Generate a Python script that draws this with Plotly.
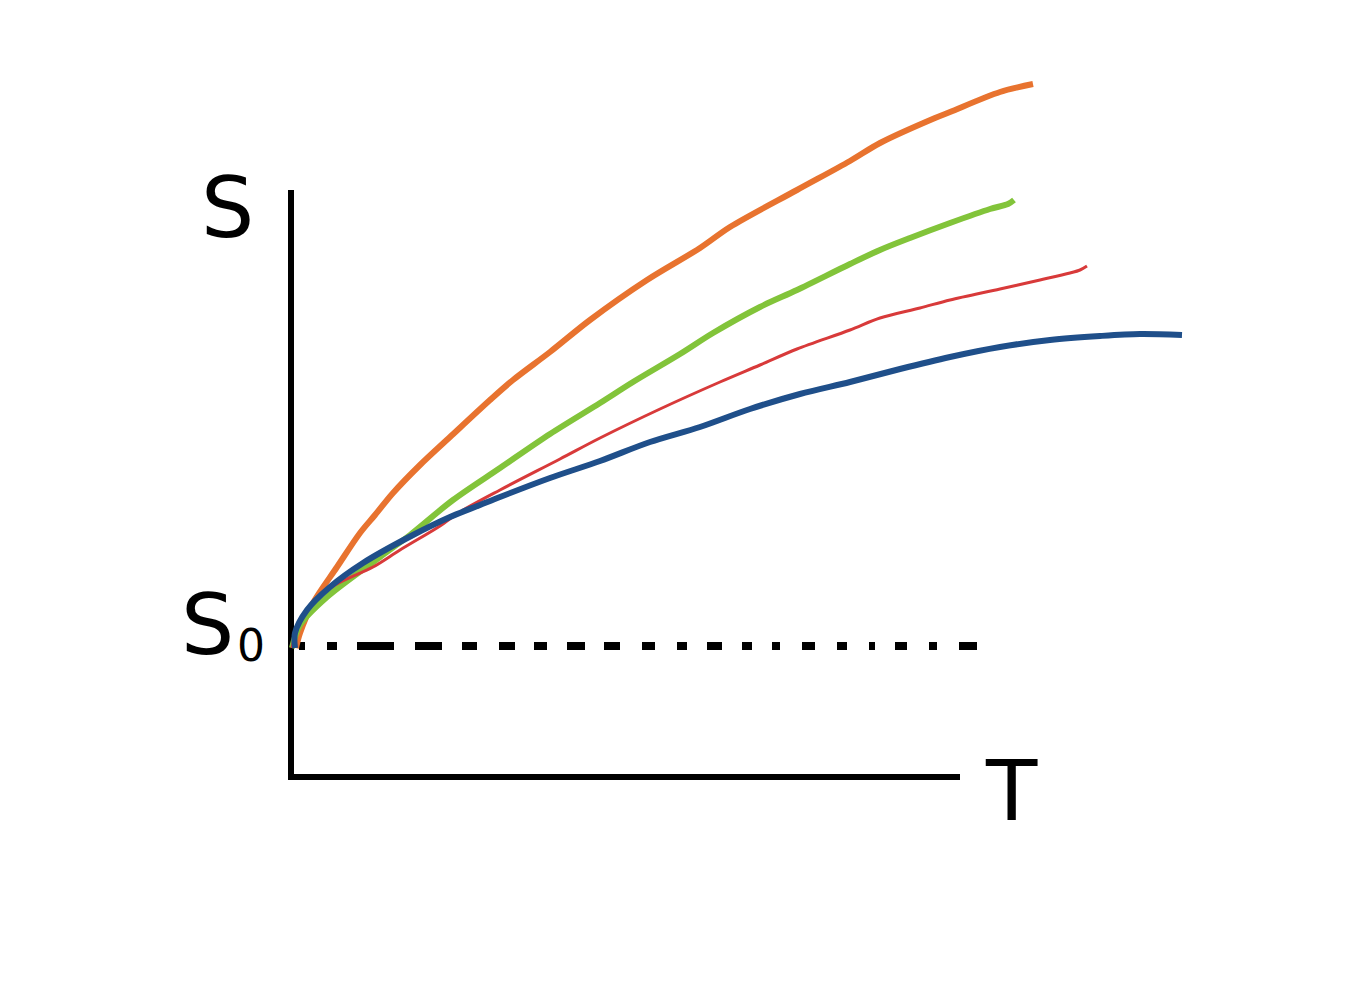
import plotly.graph_objects as go

# Sketch units: T to the right of the S axis, S above the T axis
orange_T = [5, 9, 22, 46, 69, 84, 102, 129, 159, 199, 222, 259, 299, 356, 409, 439, 506, 559, 589, 644, 659, 709, 742]
orange_S = [129, 144, 174, 210, 244, 262, 284, 312, 340, 377, 397, 425, 457, 497, 529, 550, 587, 616, 634, 659, 665, 685, 693]

green_T = [1, 9, 36, 89, 119, 162, 209, 259, 309, 342, 389, 422, 469, 506, 559, 589, 619, 659, 699, 717, 723]
green_S = [129, 152, 180, 220, 242, 277, 309, 343, 374, 395, 423, 444, 470, 487, 513, 527, 539, 554, 568, 573, 577]

red_T = [1, 7, 19, 44, 82, 109, 149, 169, 209, 269, 309, 369, 429, 469, 506, 559, 589, 629, 659, 709, 749, 779, 789, 796]
red_S = [129, 152, 171, 192, 210, 227, 251, 265, 287, 318, 339, 368, 395, 412, 428, 447, 459, 469, 477, 488, 497, 504, 507, 511]

blue_T = [4, 4, 16, 39, 72, 122, 159, 189, 209, 259, 309, 359, 409, 459, 509, 559, 609, 659, 709, 759, 809, 849, 891]
blue_S = [129, 144, 167, 190, 214, 242, 260, 272, 280, 299, 316, 335, 350, 368, 383, 395, 408, 420, 430, 437, 441, 443, 442]

# hand-drawn dashes of the S0 reference line (start, end along T)
dash_starts = [8, 36, 66, 124, 171, 208, 243, 276, 313, 351, 386, 416, 451, 481, 511, 546, 578, 604, 638, 668]
dash_ends = [14, 46, 103, 151, 186, 224, 256, 294, 329, 364, 396, 431, 461, 489, 524, 556, 584, 616, 646, 686]
S0_level = 131

axis_T_end = 669
axis_S_end = 587

fig = go.Figure()

# axes
fig.add_trace(go.Scatter(x=[0, 0, axis_T_end], y=[axis_S_end, 0, 0], mode="lines",
                         line=dict(color="black", width=6), hoverinfo="skip"))

# dashed S0 line
dx, dy = [], []
for a, b in zip(dash_starts, dash_ends):
    dx += [a, b, None]
    dy += [S0_level, S0_level, None]
fig.add_trace(go.Scatter(x=dx, y=dy, mode="lines", line=dict(color="black", width=8), hoverinfo="skip"))

series = [
    (orange_T, orange_S, "#E8732F", 6),
    (green_T, green_S, "#82C43A", 6),
    (red_T, red_S, "#D83A3A", 3),
    (blue_T, blue_S, "#1F4F8A", 6),
]
for tx, sy, col, w in series:
    fig.add_trace(go.Scatter(x=tx, y=sy, mode="lines", line=dict(color=col, width=w, shape="spline", smoothing=0.9),
                             hoverinfo="skip"))

font = dict(family="DejaVu Sans", size=84, color="black")
fig.add_annotation(x=-64, y=569, text="S", showarrow=False, font=font, xanchor="center", yanchor="middle")
fig.add_annotation(x=-84, y=152, text="S", showarrow=False, font=font, xanchor="center", yanchor="middle")
fig.add_annotation(x=-40, y=132, text="0", showarrow=False, font=dict(family="DejaVu Sans", size=44, color="black"),
                   xanchor="center", yanchor="middle")
fig.add_annotation(x=720, y=-14, text="T", showarrow=False, font=font, xanchor="center", yanchor="middle")

# page body has an 8px margin, so the figure is 8px smaller than the window
fig.update_layout(
    width=1354, height=990,
    margin=dict(l=0, r=0, t=0, b=0),
    paper_bgcolor="white", plot_bgcolor="white",
    showlegend=False,
    xaxis=dict(range=[-283, 1071], visible=False, fixedrange=True),
    yaxis=dict(range=[-221, 769], visible=False, fixedrange=True),
)

fig.write_html("out.html")
